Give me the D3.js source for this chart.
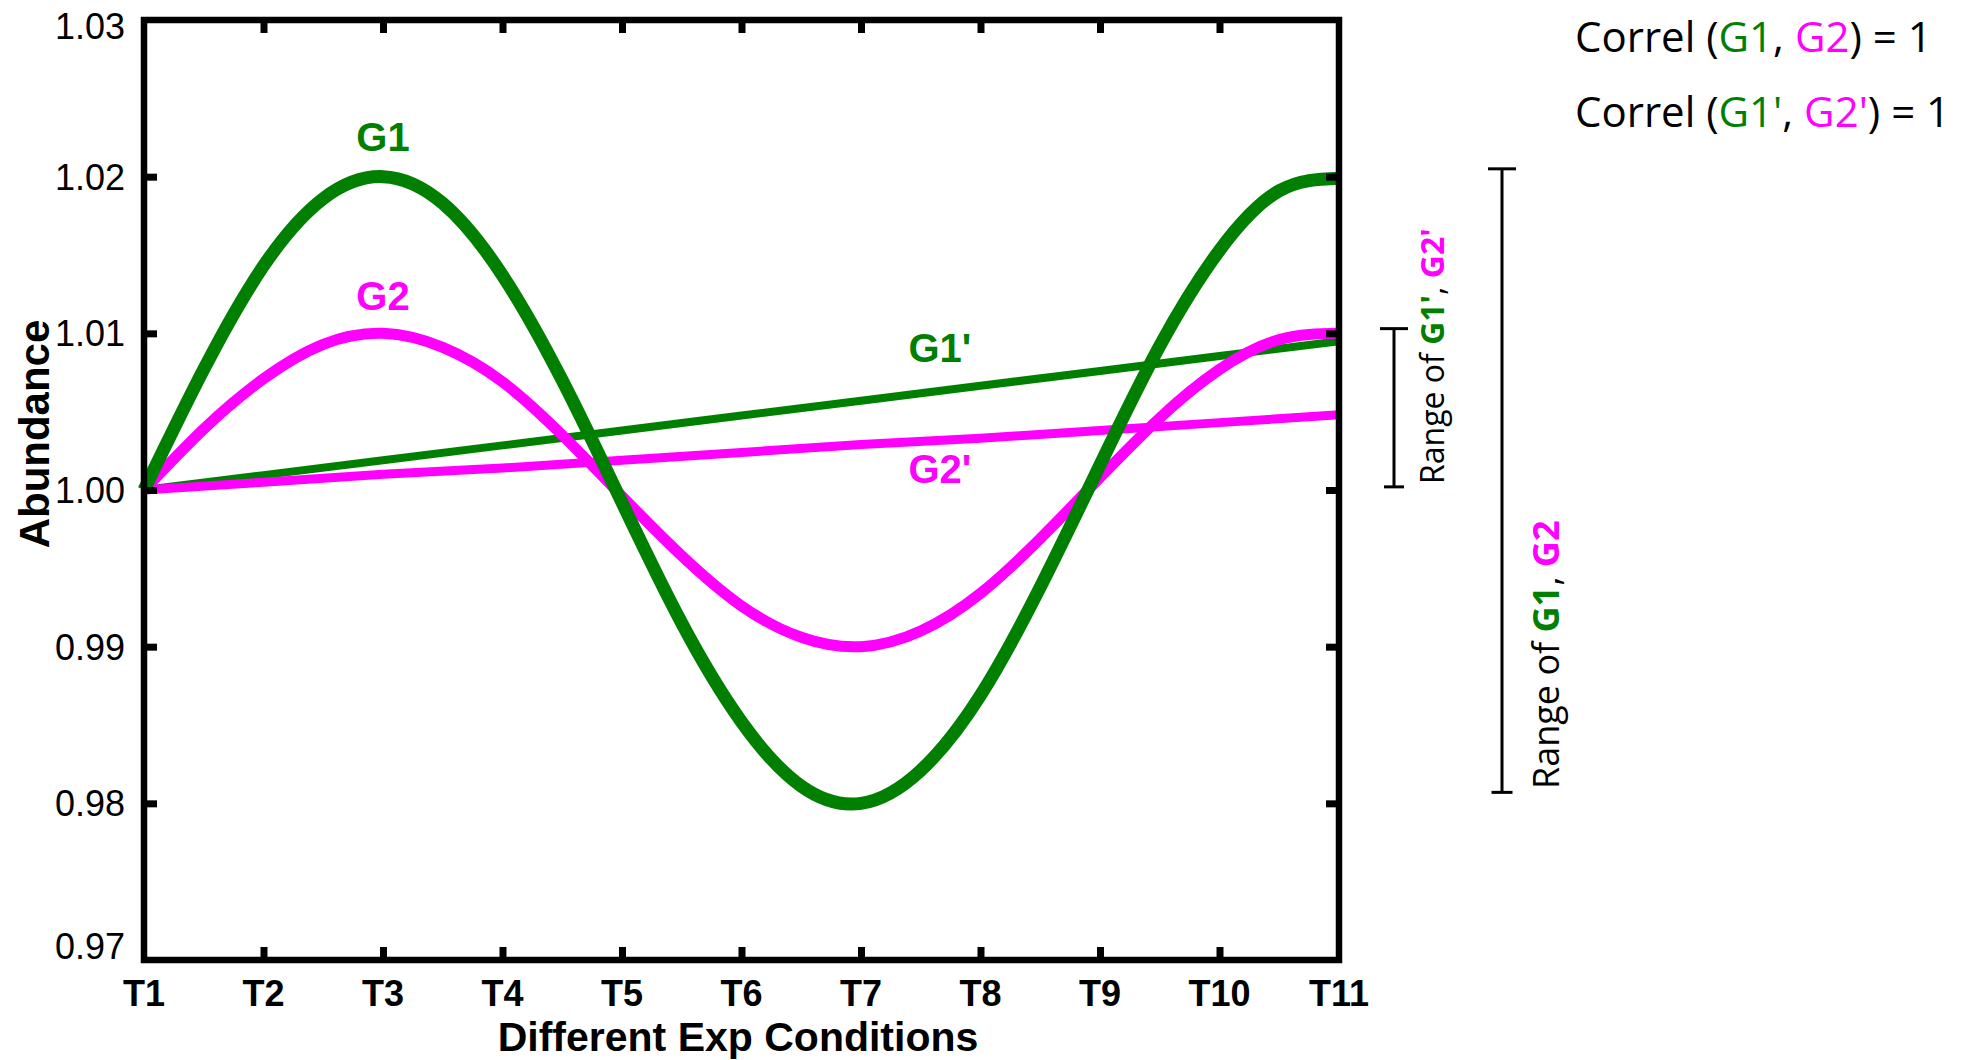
<!DOCTYPE html>
<html>
<head>
<meta charset="utf-8">
<script src="https://cdn.jsdelivr.net/npm/d3@7"></script>
<style>
  html, body { margin: 0; padding: 0; background: #ffffff; }
  svg { display: block; }
</style>
</head>
<body>
<svg id="chart" width="1969" height="1060"></svg>
<script>
// ---------------- data ----------------
const categories = ["T1","T2","T3","T4","T5","T6","T7","T8","T9","T10","T11"];
const catPos = [1,2,3,4,5,6,7,8,9,10,11];
const yTicks = [0.97, 0.98, 0.99, 1.00, 1.01, 1.02, 1.03];
const yTickLabels = ["0.97","0.98","0.99","1.00","1.01","1.02","1.03"];

// sample positions (half steps between conditions) for the curved series
const samplePos = [1,1.5,2,2.5,3,3.5,4,4.5,5,5.5,6,6.5,7,7.5,8,8.5,9,9.5,10,10.5,11];
const g1Values = [1.0000,1.0077,1.0143,1.0186,1.0200,1.0183,1.0137,1.0070,0.9992,0.9915,0.9852,
                  0.9811,0.9800,0.9821,0.9869,0.9938,1.0016,1.0092,1.0153,1.0191,1.0199];
const g2Values = [1.0000,1.0039,1.0071,1.0093,1.0100,1.0091,1.0069,1.0035,0.9996,0.9958,0.9926,
                  0.9906,0.9900,0.9910,0.9934,0.9969,1.0008,1.0046,1.0077,1.0096,1.0100];
// straight series at each condition
const g1pValues = [1.0000,1.00095,1.0019,1.00285,1.0038,1.00475,1.0057,1.00665,1.0076,1.00855,1.0095];
const g2pValues = [1.0000,1.0005,1.0010,1.0014,1.0019,1.0024,1.0029,1.0033,1.0038,1.0043,1.0048];

// range brackets (in data units)
const rangeSmall = [1.0002, 1.0103];
const rangeLarge = [0.9807, 1.0205];

// ---------------- setup ----------------
const GREEN = "#007f00", MAGENTA = "#ff00ff";
const svg = d3.select("#chart");
const L = 144, R = 1339, T = 20, B = 960;
const x = d3.scaleLinear().domain([1, 11]).range([L, R]);
const y = d3.scaleLinear().domain([0.97, 1.03]).range([B, T]);

const sansB = "'Liberation Sans', Arial, sans-serif";
const open = "'Open Sans', 'Noto Sans', sans-serif";

// ---------------- series ----------------
const lineCurve = d3.line().x(d => x(d[0])).y(d => y(d[1])).curve(d3.curveNatural);
const lineStraight = d3.line().x(d => x(d[0])).y(d => y(d[1]));

const series = [
  { pts: d3.zip(catPos, g1pValues), color: GREEN, w: 8, gen: lineStraight },
  { pts: d3.zip(catPos, g2pValues), color: MAGENTA, w: 9, gen: lineStraight },
  { pts: d3.zip(samplePos, g2Values), color: MAGENTA, w: 11, gen: lineCurve },
  { pts: d3.zip(samplePos, g1Values), color: GREEN, w: 13, gen: lineCurve }
];
svg.append("g").selectAll("path").data(series).join("path")
  .attr("d", d => d.gen(d.pts))
  .attr("fill", "none")
  .attr("stroke", d => d.color)
  .attr("stroke-width", d => d.w)
  .attr("stroke-linejoin", "round");

// ---------------- axes ----------------
const xTickVals = catPos.filter(v => v !== 1 && v !== 11);
const yTickVals = yTicks.filter(v => v !== 0.97 && v !== 1.03);

function styleTicks(g) {
  g.select(".domain").remove();
  g.selectAll(".tick line").attr("stroke", "#000").attr("stroke-width", 7);
}
svg.append("g").attr("transform", `translate(0,${B})`)
  .call(d3.axisBottom(x).tickValues(xTickVals).tickSize(-13).tickFormat(""))
  .call(styleTicks);
svg.append("g").attr("transform", `translate(0,${T})`)
  .call(d3.axisTop(x).tickValues(xTickVals).tickSize(-13).tickFormat(""))
  .call(styleTicks);
svg.append("g").attr("transform", `translate(${L},0)`)
  .call(d3.axisLeft(y).tickValues(yTickVals).tickSize(-13).tickFormat(""))
  .call(styleTicks);
svg.append("g").attr("transform", `translate(${R},0)`)
  .call(d3.axisRight(y).tickValues(yTickVals).tickSize(-13).tickFormat(""))
  .call(styleTicks);

// frame
svg.append("rect").attr("x", L).attr("y", T).attr("width", R - L).attr("height", B - T)
  .attr("fill", "none").attr("stroke", "#000").attr("stroke-width", 6.5);

// x tick labels
svg.append("g").selectAll("text").data(categories).join("text")
  .attr("x", (d, i) => x(catPos[i]))
  .attr("y", 1006)
  .attr("text-anchor", "middle")
  .attr("font-family", sansB).attr("font-weight", "bold").attr("font-size", 36)
  .text(d => d);

// y tick labels
svg.append("g").selectAll("text").data(yTicks).join("text")
  .attr("x", 125)
  .attr("y", d => Math.min(Math.max(y(d), 26), 946))
  .attr("dy", "0.36em")
  .attr("text-anchor", "end")
  .attr("font-family", sansB).attr("font-size", 36)
  .text((d, i) => yTickLabels[i]);

// axis titles
svg.append("text")
  .attr("x", 738).attr("y", 1051)
  .attr("text-anchor", "middle")
  .attr("font-family", sansB).attr("font-weight", "bold").attr("font-size", 41)
  .text("Different Exp Conditions");
svg.append("text")
  .attr("transform", "translate(49,434) rotate(-90)")
  .attr("text-anchor", "middle")
  .attr("font-family", sansB).attr("font-weight", "bold").attr("font-size", 42)
  .text("Abundance");

// series labels
const seriesLabels = [
  { t: "G1", px: 3, v: 1.0200, off: -26, c: GREEN },
  { t: "G2", px: 3, v: 1.0100, off: -23, c: MAGENTA },
  { t: "G1'", px: 7.66, v: 1.0082, off: 0, c: GREEN },
  { t: "G2'", px: 7.66, v: 1.00045, off: 0, c: MAGENTA }
];
svg.append("g").selectAll("text").data(seriesLabels).join("text")
  .attr("x", d => x(d.px))
  .attr("y", d => y(d.v) + d.off)
  .attr("text-anchor", "middle")
  .attr("font-family", sansB).attr("font-weight", "bold").attr("font-size", 40)
  .attr("fill", d => d.c)
  .text(d => d.t);

// range brackets
function bracket(xc, range, capTop, capBot) {
  const g = svg.append("g").attr("stroke", "#000").attr("stroke-width", 3);
  g.append("line").attr("x1", xc).attr("x2", xc).attr("y1", y(range[1])).attr("y2", y(range[0]));
  g.append("line").attr("x1", xc - capTop / 2).attr("x2", xc + capTop / 2)
    .attr("y1", y(range[1])).attr("y2", y(range[1]));
  g.append("line").attr("x1", xc - capBot / 2).attr("x2", xc + capBot / 2)
    .attr("y1", y(range[0])).attr("y2", y(range[0]));
}
bracket(1394, rangeSmall, 28, 20);
bracket(1502, rangeLarge, 28, 21);

function richText(tx, ty, rot, size, parts, anchor) {
  const t = svg.append("text")
    .attr("transform", `translate(${tx},${ty}) rotate(${rot})`)
    .attr("font-family", open).attr("font-size", size)
    .attr("text-anchor", anchor || "start");
  parts.forEach(p => {
    t.append("tspan").attr("fill", p.c || "#000")
      .attr("font-weight", p.b ? 700 : 400).text(p.s);
  });
}
richText(1444, 484, -90, 32, [
  { s: "Range of " }, { s: "G1'", c: GREEN, b: 1 }, { s: ", " }, { s: "G2'", c: MAGENTA, b: 1 }
]);
richText(1559, 789, -90, 36, [
  { s: "Range of " }, { s: "G1", c: GREEN, b: 1 }, { s: ", " }, { s: "G2", c: MAGENTA, b: 1 }
]);

// correlation notes
richText(1575, 52, 0, 42, [
  { s: "Correl (" }, { s: "G1", c: GREEN }, { s: ", " }, { s: "G2", c: MAGENTA }, { s: ") = 1" }
]);
richText(1575, 127, 0, 42, [
  { s: "Correl (" }, { s: "G1'", c: GREEN }, { s: ", " }, { s: "G2'", c: MAGENTA }, { s: ") = 1" }
]);
</script>
</body>
</html>
